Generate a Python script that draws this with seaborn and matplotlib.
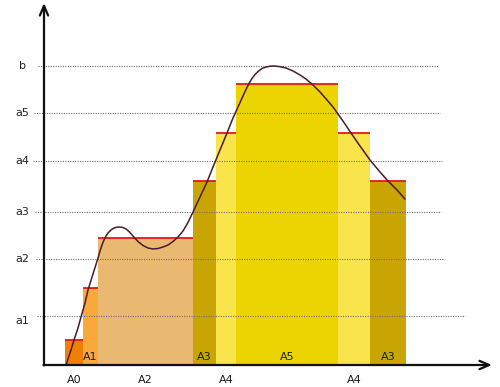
import matplotlib
matplotlib.use("Agg")
import matplotlib.pyplot as plt
import seaborn as sns
import pandas as pd

sns.set_style("white")
plt.rcParams['font.family'] = ['DejaVu Sans']

# Levels on the y axis
level_labels = ["a1", "a2", "a3", "a4", "a5", "b"]
level_values = [0.49, 1.06, 1.53, 2.04, 2.52, 2.99]

# Step bars (Lebesgue-style sets)
bar_edges = [0.21, 0.39, 0.54, 1.49, 1.72, 1.92, 2.94, 3.26, 3.62]
bar_heights = [0.25, 0.77, 1.27, 1.84, 2.32, 2.81, 2.32, 1.84]
bar_labels = ["A0", "A1", "A2", "A3", "A4", "A5", "A4", "A3"]
bar_label_inside = [False, True, False, True, False, True, False, True]
bar_colors = ["#EF7F05", "#F9A93C", "#E9B972", "#C8A502",
              "#F9E44B", "#ECD402", "#F9E44B", "#C8A502"]

# The function curve
curve_x = [0.22, 0.26, 0.30, 0.34, 0.37, 0.41, 0.44, 0.49, 0.54, 0.56, 0.58,
           0.60, 0.62, 0.64, 0.67, 0.70, 0.73, 0.76, 0.79, 0.82, 0.85, 0.89,
           0.94, 0.99, 1.04, 1.09, 1.14, 1.19, 1.24, 1.29, 1.34, 1.39, 1.44,
           1.49, 1.56, 1.63, 1.69, 1.76, 1.83, 1.89, 1.94, 1.99, 2.02, 2.05,
           2.08, 2.11, 2.14, 2.18, 2.22, 2.26, 2.30, 2.35, 2.42, 2.49, 2.56,
           2.62, 2.69, 2.76, 2.83, 2.89, 2.94, 3.01, 3.07, 3.16, 3.26, 3.36,
           3.44, 3.53, 3.61]
curve_y = [0.00, 0.12, 0.25, 0.37, 0.48, 0.62, 0.75, 0.91, 1.07, 1.14, 1.20,
           1.25, 1.29, 1.32, 1.35, 1.37, 1.378, 1.38, 1.375, 1.36, 1.335, 1.29,
           1.235, 1.195, 1.17, 1.16, 1.165, 1.18, 1.20, 1.235, 1.28, 1.34, 1.425,
           1.53, 1.68, 1.83, 1.98, 2.15, 2.32, 2.47, 2.58, 2.69, 2.755, 2.815,
           2.865, 2.905, 2.935, 2.965, 2.98, 2.988, 2.99, 2.985, 2.97, 2.94, 2.90,
           2.86, 2.80, 2.73, 2.65, 2.58, 2.51, 2.41, 2.32, 2.19, 2.05, 1.93,
           1.84, 1.75, 1.66]

# gridline extents (style)
grid_x0 = [-0.07, -0.08, -0.09, -0.11, -0.10, -0.06]
grid_x1 = [4.21, 3.99, 3.97, 3.98, 3.96, 3.94]

fig = plt.figure(figsize=(5.0, 3.87), dpi=100)
ax = fig.add_axes([0, 0, 1, 1])
ax.set_xlim(-0.44, 4.56)
ax.set_ylim(-0.22, 3.65)
ax.axis("off")

lefts = bar_edges[:-1]
widths = [bar_edges[i + 1] - bar_edges[i] for i in range(len(bar_heights))]
ax.bar(lefts, bar_heights, width=widths, align="edge", color=bar_colors,
       edgecolor="none", zorder=1)
ax.hlines(bar_heights, lefts, bar_edges[1:], colors="#E8161E", lw=1.3, zorder=3)

# dotted level lines
for v, x0, x1 in zip(level_values, grid_x0, grid_x1):
    ax.plot([x0, x1], [v, v], color="#6f6f6f", lw=0.8, ls=(0, (1, 1.2)), zorder=2)

df = pd.DataFrame({"x": curve_x, "y": curve_y})
sns.lineplot(data=df, x="x", y="y", ax=ax, sort=False, color="#4A1A2E",
             lw=1.1, zorder=4, solid_joinstyle="round", solid_capstyle="round")

# level labels
for lab, v in zip(level_labels, level_values):
    yy = v - 0.05 if lab == "a1" else v
    ax.text(-0.22, yy, lab, ha="center", va="center", fontsize=8, color="#222222")

# set labels
for i, lab in enumerate(bar_labels):
    cx = (bar_edges[i] + bar_edges[i + 1]) / 2
    if bar_label_inside[i]:
        ax.text(cx, 0.075, lab, ha="center", va="center", fontsize=8,
                color="#1a1a1a", zorder=5)
    else:
        ax.text(cx, -0.15, lab, ha="center", va="center", fontsize=8,
                color="#1a1a1a")

# axes with arrows
ax.annotate("", xy=(0, 3.62), xytext=(0, -0.005),
            arrowprops=dict(arrowstyle="->,head_length=0.7,head_width=0.3",
                            lw=1.6, color="#111111", shrinkA=0, shrinkB=0), zorder=6)
ax.annotate("", xy=(4.48, 0), xytext=(-0.005, 0),
            arrowprops=dict(arrowstyle="->,head_length=0.7,head_width=0.3",
                            lw=1.6, color="#111111", shrinkA=0, shrinkB=0), zorder=6)

fig.savefig("out.png", dpi=100)
